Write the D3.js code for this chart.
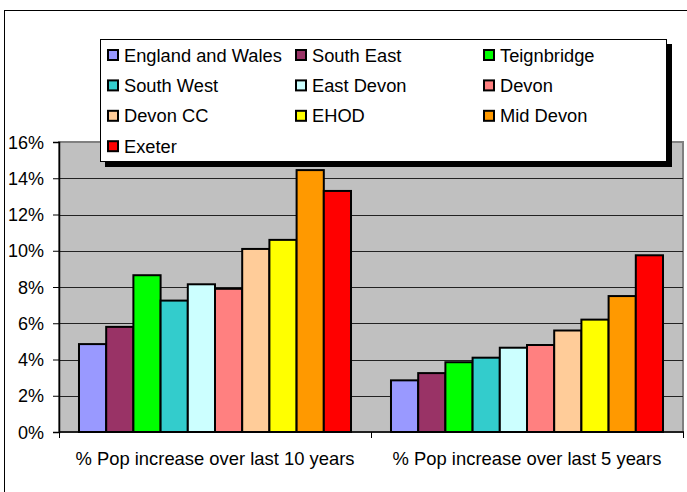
<!DOCTYPE html>
<html>
<head>
<meta charset="utf-8">
<script src="https://cdn.jsdelivr.net/npm/d3@7"></script>
<style>
  body { margin: 0; background: #ffffff; }
  svg { display: block; font-family: "Liberation Sans", Arial, sans-serif; }
</style>
</head>
<body>
<svg id="popChart" width="687" height="492"></svg>
<script>
const categories = ['% Pop increase over last 10 years', '% Pop increase over last 5 years'];
const seriesNames = ['England and Wales', 'South East', 'Teignbridge', 'South West', 'East Devon',
    'Devon', 'Devon CC', 'EHOD', 'Mid Devon', 'Exeter'];
const tenYear = [4.85, 5.8, 8.65, 7.25, 8.15, 7.9, 10.1, 10.6, 14.45, 13.3];
const fiveYear = [2.85, 3.25, 3.85, 4.1, 4.65, 4.8, 5.6, 6.2, 7.5, 9.75];
const yTicks = [0, 2, 4, 6, 8, 10, 12, 14, 16];
const seriesColors = ['#9999FF', '#993366', '#00FF00', '#33CCCC', '#CCFFFF',
    '#FF8080', '#FFCC99', '#FFFF00', '#FF9900', '#FF0000'];

function popChart(){

    const svg = d3.select('#popChart');
    svg.selectAll('*').remove();

    const plot = { left: 59, right: 683, top: 142, bottom: 432 };
    const values = [tenYear, fiveYear];

    // outer chart border
    svg.append('rect')
        .attr('x', 4.5).attr('y', 10.5)
        .attr('width', 700).attr('height', 500)
        .attr('fill', '#ffffff')
        .attr('stroke', '#000000');

    const x0 = d3.scaleBand()
        .domain(categories)
        .range([plot.left, plot.right])
        .padding(0);

    const x1 = d3.scaleBand()
        .domain(seriesNames)
        .range([0, x0.bandwidth()])
        .paddingInner(0)
        .paddingOuter(0.735);

    const y = d3.scaleLinear()
        .domain([0, 16])
        .range([plot.bottom, plot.top]);

    // plot area
    svg.append('rect')
        .attr('x', plot.left).attr('y', plot.top)
        .attr('width', plot.right - plot.left).attr('height', plot.bottom - plot.top)
        .attr('fill', '#C0C0C0')
        .attr('stroke', '#808080')
        .attr('stroke-width', 2);

    // gridlines
    svg.append('g')
        .selectAll('line')
        .data(yTicks.filter(t => t > 0 && t < 16))
        .join('line')
        .attr('x1', plot.left).attr('x2', plot.right)
        .attr('y1', d => Math.round(y(d)) + 0.5)
        .attr('y2', d => Math.round(y(d)) + 0.5)
        .attr('stroke', '#222222');

    // bars
    categories.forEach((cat, ci) => {
        svg.append('g')
            .selectAll('rect')
            .data(values[ci])
            .join('rect')
            .attr('x', (d, i) => x0(cat) + x1(seriesNames[i]))
            .attr('y', d => y(d))
            .attr('width', x1.bandwidth())
            .attr('height', d => plot.bottom - y(d))
            .attr('fill', (d, i) => seriesColors[i])
            .attr('stroke', '#000000')
            .attr('stroke-width', 2);
    });

    // y axis
    const yAxis = svg.append('g')
        .attr('transform', `translate(${plot.left},0)`)
        .call(d3.axisLeft(y).tickValues(yTicks).tickFormat(d => d + '%').tickSize(6).tickPadding(9));
    yAxis.select('.domain').attr('stroke', '#000000').attr('stroke-width', 1.5);
    yAxis.selectAll('.tick line').attr('stroke', '#000000');
    yAxis.selectAll('.tick text')
        .attr('font-size', 18)
        .attr('font-family', '"Liberation Sans", Arial, sans-serif')
        .attr('fill', '#000000')
        .attr('dy', '0.34em');

    // x axis
    const xAxis = svg.append('g')
        .attr('transform', `translate(0,${plot.bottom})`);
    xAxis.append('line')
        .attr('x1', plot.left).attr('x2', plot.right + 1)
        .attr('stroke', '#000000')
        .attr('stroke-width', 1.5);
    xAxis.selectAll('line.cat')
        .data([plot.left, plot.left + x0.bandwidth(), plot.right])
        .join('line')
        .attr('class', 'cat')
        .attr('x1', d => d + 0.5).attr('x2', d => d + 0.5)
        .attr('y1', 0).attr('y2', 6)
        .attr('stroke', '#000000');
    xAxis.selectAll('text')
        .data(categories)
        .join('text')
        .attr('x', d => x0(d) + x0.bandwidth() / 2)
        .attr('y', 33)
        .attr('text-anchor', 'middle')
        .attr('font-size', 18.4)
        .attr('fill', '#000000')
        .text(d => d);

    // legend
    const legend = { x: 100, y: 39, w: 566, h: 122 };
    svg.append('rect')
        .attr('x', legend.x + 5).attr('y', legend.y + 5)
        .attr('width', legend.w + 1).attr('height', legend.h + 1)
        .attr('fill', '#000000');
    svg.append('rect')
        .attr('x', legend.x + 0.5).attr('y', legend.y + 0.5)
        .attr('width', legend.w).attr('height', legend.h)
        .attr('fill', '#ffffff')
        .attr('stroke', '#000000');

    const items = svg.append('g')
        .selectAll('g')
        .data(seriesNames)
        .join('g')
        .attr('transform', (d, i) => `translate(${108 + (i % 3) * 188},${55 + Math.floor(i / 3) * 30.4})`);

    items.append('rect')
        .attr('x', 0).attr('y', -5)
        .attr('width', 10).attr('height', 10)
        .attr('fill', (d, i) => seriesColors[i])
        .attr('stroke', '#000000')
        .attr('stroke-width', 2);

    items.append('text')
        .attr('x', 16)
        .attr('y', 6.5)
        .attr('font-size', 18.3)
        .attr('fill', '#000000')
        .text(d => d);
}

popChart();
</script>
</body>
</html>
